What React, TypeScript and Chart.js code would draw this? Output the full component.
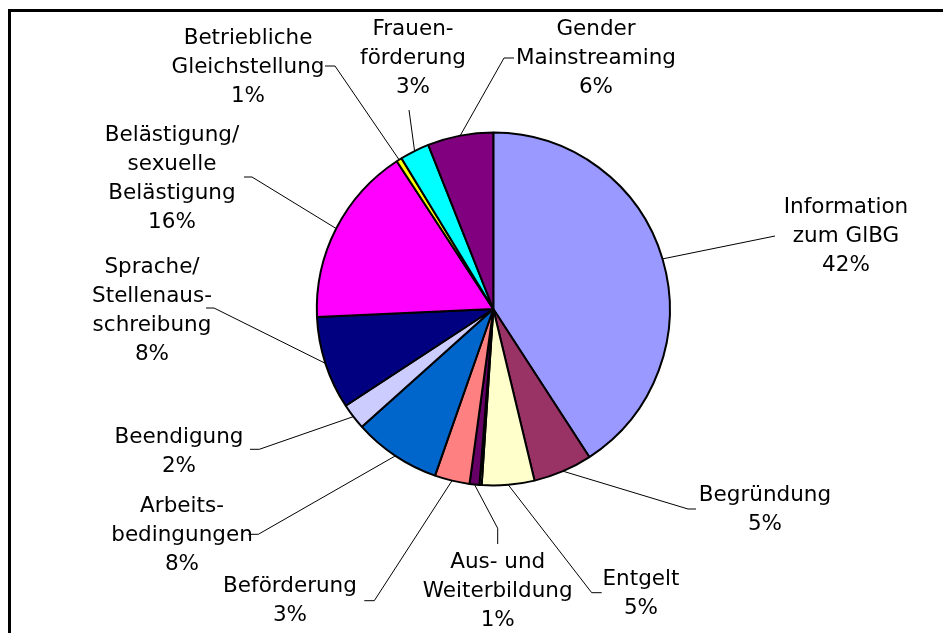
import React, { useEffect, useRef } from "react";
import { Chart, registerables } from "chart.js";

Chart.register(...registerables);

// ---- data ----
const categories: string[] = [
  "Information zum GlBG",
  "Begründung",
  "Entgelt",
  "",
  "Aus- und Weiterbildung",
  "Beförderung",
  "Arbeitsbedingungen",
  "Beendigung",
  "Sprache/Stellenausschreibung",
  "Belästigung/sexuelle Belästigung",
  "Betriebliche Gleichstellung",
  "Frauenförderung",
  "Gender Mainstreaming",
];
const labelLines: string[][] = [
  ["Information", "zum GlBG"],
  ["Begründung"],
  ["Entgelt"],
  [],
  ["Aus- und", "Weiterbildung"],
  ["Beförderung"],
  ["Arbeits-", "bedingungen"],
  ["Beendigung"],
  ["Sprache/", "Stellenaus-", "schreibung"],
  ["Belästigung/", "sexuelle", "Belästigung"],
  ["Betriebliche", "Gleichstellung"],
  ["Frauen-", "förderung"],
  ["Gender", "Mainstreaming"],
];
const shares: number[] = [40.8, 5.4, 4.8, 0.2, 0.9, 3.2, 8.0, 2.4, 8.5, 16.5, 0.5, 2.7, 6.0];
const percentLabels: string[] = ["42%", "5%", "5%", "", "1%", "3%", "8%", "2%", "8%", "16%", "1%", "3%", "6%"];
const sliceColors: string[] = [
  "#9999FF", "#993366", "#FFFFCC", "#CCFFFF", "#660066", "#FF8080", "#0066CC",
  "#CCCCFF", "#000080", "#FF00FF", "#FFFF00", "#00FFFF", "#800080",
];

// ---- label layout (px offsets from pie centre): text centre, elbow, leader end ----
type LabelPos = { cx: number; cy: number; ex: number; ey: number; tx: number; ty: number } | null;
const labelLayout: LabelPos[] = [
  { cx: 352.7, cy: -72.5, ex: 281.7, ey: -73, tx: 281.7, ty: -73 },
  { cx: 271.7, cy: 200.5, ex: 194.7, ey: 200, tx: 202.7, ty: 200 },
  { cx: 147.7, cy: 284.5, ex: 98.4, ey: 283.7, tx: 108.4, ty: 283.7 },
  null,
  { cx: 4.4, cy: 282.7, ex: 4.4, ey: 219.3, tx: 4.4, ty: 235 },
  { cx: -203.3, cy: 292, ex: -119, ey: 291.7, tx: -129, ty: 291.7 },
  { cx: -311.3, cy: 226, ex: -235, ey: 225.3, tx: -245, ty: 225.3 },
  { cx: -314.3, cy: 143, ex: -234, ey: 140.3, tx: -243.3, ty: 140.3 },
  { cx: -341.3, cy: 2, ex: -279.3, ey: -1, tx: -287.3, ty: -1 },
  { cx: -321.3, cy: -130.5, ex: -241.3, ey: -132, tx: -249.3, ty: -132 },
  { cx: -245.3, cy: -242, ex: -158.3, ey: -243, tx: -168.3, ty: -243 },
  { cx: -80.3, cy: -251, ex: -84.3, ey: -199, tx: -84.3, ty: -199 },
  { cx: 102.7, cy: -251, ex: 10.7, ey: -251, tx: 20.7, ty: -251 },
];

const FONT = '21.5px "DejaVu Sans", Verdana, sans-serif';
const LINE_H = 29;

const frame = {
  id: "frame",
  beforeDraw(chart: any) {
    const ctx = chart.ctx;
    ctx.save();
    ctx.fillStyle = "#fff";
    ctx.fillRect(0, 0, chart.width, chart.height);
    ctx.fillStyle = "#000";
    ctx.fillRect(8, 9, 3, chart.height - 9);
    ctx.fillRect(8, 9, chart.width - 8, 3);
    ctx.restore();
  },
};

const outsideLabels = {
  id: "outsideLabels",
  afterDatasetsDraw(chart: any) {
    const ctx = chart.ctx;
    const meta = chart.getDatasetMeta(0);
    ctx.save();
    ctx.strokeStyle = "#000";
    ctx.lineWidth = 1;
    ctx.fillStyle = "#000";
    ctx.font = FONT;
    ctx.textAlign = "center";
    ctx.textBaseline = "middle";
    meta.data.forEach((arc: any, i: number) => {
      const lay = labelLayout[i];
      if (!lay) return;
      const { x, y, startAngle, endAngle, outerRadius } = arc.getProps(
        ["x", "y", "startAngle", "endAngle", "outerRadius"],
        true
      );
      const mid = (startAngle + endAngle) / 2;
      const px = x + Math.cos(mid) * outerRadius;
      const py = y + Math.sin(mid) * outerRadius;
      ctx.beginPath();
      ctx.moveTo(px, py);
      ctx.lineTo(x + lay.ex, y + lay.ey);
      ctx.lineTo(x + lay.tx, y + lay.ty);
      ctx.stroke();
      const lines = [...labelLines[i], percentLabels[i]];
      const n = lines.length;
      const y0 = y + lay.cy - ((n - 1) * LINE_H) / 2;
      lines.forEach((t, k) => {
        ctx.fillText(t, x + lay.cx, y0 + k * LINE_H);
      });
    });
    ctx.restore();
  },
};

export default function App() {
  const ref = useRef<HTMLCanvasElement | null>(null);
  useEffect(() => {
    if (!ref.current) return;
    const W = 943;
    const H = 633;
    const cx = 493.3;
    const cy = 309;
    const left = 300;
    const top = 100;
    const chart = new Chart(ref.current, {
      type: "pie",
      data: {
        labels: categories,
        datasets: [
          {
            data: shares,
            backgroundColor: sliceColors,
            borderColor: "#000",
            borderWidth: 2,
          },
        ],
      },
      options: {
        responsive: false,
        animation: false,
        radius: 176.5,
        layout: {
          padding: {
            left: left,
            right: W - (2 * cx - left),
            top: top,
            bottom: H - (2 * cy - top),
          },
        },
        plugins: {
          legend: { display: false },
          tooltip: { enabled: false },
        },
      } as any,
      plugins: [frame, outsideLabels],
    });
    return () => chart.destroy();
  }, []);
  return (
    <div
      style={{
        position: "fixed",
        left: 0,
        top: 0,
        width: 943,
        height: 633,
        overflow: "hidden",
        background: "#fff",
      }}
    >
      <canvas
        ref={ref}
        width={943}
        height={633}
        style={{ position: "absolute", left: 0, top: 0, width: 943, height: 633 }}
      />
    </div>
  );
}
